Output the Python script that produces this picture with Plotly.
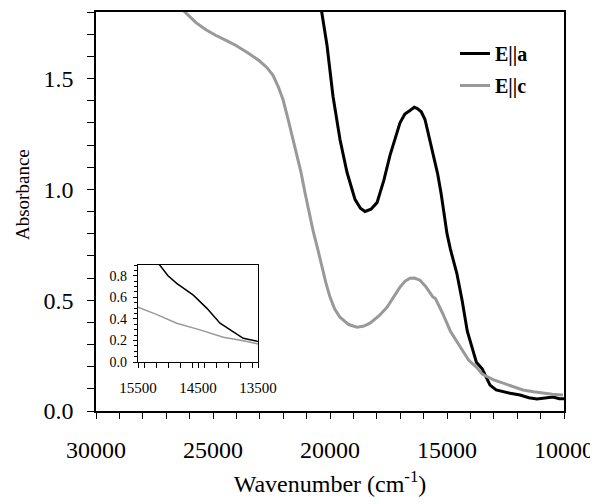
import plotly.graph_objects as go

# E||a (black) : wavenumber (cm-1), absorbance
wn_a = [20400, 20128, 19872, 19573, 19274, 18932, 18700, 18504, 18250, 17991,
        17700, 17436, 17009, 16800, 16581, 16400, 16282, 16100, 15940, 15598,
        15400, 15250, 15133, 15000, 14855, 14700, 14578, 14355, 14133, 13911,
        13745, 13495, 13300, 13162, 12900, 12607, 12300, 11880, 11500, 11154,
        10800, 10470, 10200, 10000]
abs_a = [1.83, 1.65, 1.42, 1.225, 1.077, 0.955, 0.915, 0.90, 0.91, 0.94,
         1.04, 1.153, 1.30, 1.34, 1.356, 1.37, 1.365, 1.35, 1.315, 1.167,
         1.07, 0.98, 0.90, 0.80, 0.73, 0.67, 0.62, 0.50, 0.36, 0.28,
         0.22, 0.19, 0.15, 0.117, 0.095, 0.086, 0.08, 0.072, 0.06, 0.054,
         0.058, 0.063, 0.055, 0.055]

# E||c (gray)
wn_c = [26300, 25727, 25300, 24872, 24400, 24017, 23500, 23034, 22700, 22436,
        22200, 22009, 21800, 21581, 21400, 21239, 21080, 20897, 20726, 20500,
        20342, 20180, 20000, 19800, 19573, 19200, 18846, 18550, 18291, 17900,
        17564, 17300, 17009, 16800, 16581, 16400, 16154, 15900, 15598, 15500,
        15183, 14855, 14467, 14078, 13745, 13495, 13000, 12607, 12200, 11752,
        11300, 10897, 10500, 10043]
abs_c = [1.81, 1.752, 1.72, 1.694, 1.67, 1.649, 1.615, 1.581, 1.55, 1.514,
         1.46, 1.405, 1.32, 1.225, 1.15, 1.077, 0.99, 0.896, 0.815, 0.72,
         0.649, 0.58, 0.514, 0.46, 0.423, 0.39, 0.378, 0.383, 0.396, 0.43,
         0.468, 0.51, 0.559, 0.585, 0.599, 0.60, 0.59, 0.56, 0.514, 0.508,
         0.44, 0.36, 0.298, 0.23, 0.198, 0.167, 0.14, 0.126, 0.11, 0.095,
         0.087, 0.081, 0.076, 0.072]

series_names = ["<b>E||a</b>", "<b>E||c</b>"]
x_tick_vals = [30000, 25000, 20000, 15000, 10000]
inset_x_ticks = [15500, 14500, 13500]

BLACK = "#000000"
GRAY = "#999999"
FONT = "Liberation Serif, Times New Roman, DejaVu Serif, serif"

fig = go.Figure()
fig.add_trace(go.Scatter(x=wn_a, y=abs_a, mode="lines", name=series_names[0],
                         line=dict(color=BLACK, width=3), legendgroup="a"))
fig.add_trace(go.Scatter(x=wn_c, y=abs_c, mode="lines", name=series_names[1],
                         line=dict(color=GRAY, width=3), legendgroup="c"))
# inset traces
fig.add_trace(go.Scatter(x=wn_a, y=abs_a, mode="lines", showlegend=False,
                         line=dict(color=BLACK, width=1.5), xaxis="x2", yaxis="y2"))
fig.add_trace(go.Scatter(x=wn_c, y=abs_c, mode="lines", showlegend=False,
                         line=dict(color=GRAY, width=1.5), xaxis="x2", yaxis="y2"))

# page has an 8px body margin, so the figure is placed at (8, 8)
W, H = 590, 496
PL, PT, PR, PB = 96, 12, 564, 411   # plot box in page pixels

def px_x(x):
    return (x - PL) / (PR - PL)

def px_y(y):
    return (PB - y) / (PB - PT)

fig.update_layout(
    width=W, height=H,
    margin=dict(l=PL - 8, r=W - (PR - 8), t=PT - 8, b=H - (PB - 8)),
    paper_bgcolor="white", plot_bgcolor="white",
    font=dict(family=FONT, color="black", size=22),
    showlegend=True,
    legend=dict(x=px_x(455), y=px_y(34), xanchor="left", yanchor="top",
                bgcolor="rgba(0,0,0,0)", font=dict(size=20, family=FONT),
                tracegroupgap=3, itemwidth=30),
    xaxis=dict(range=[30000, 10000], tickmode="array", tickvals=x_tick_vals,
               tickformat="d", automargin=False,
               ticks="outside", ticklen=6, tickwidth=1.2, tickcolor="black",
               minor=dict(dtick=1000, ticks="outside", ticklen=6, tickwidth=1.2, tickcolor="black"),
               showline=True, linecolor="black", linewidth=1.5, mirror=True,
               showgrid=False, zeroline=False, ticklabelstandoff=10,
               tickfont=dict(size=24, family=FONT),
               title=dict(text="Wavenumber (cm<sup>-1</sup>)", font=dict(size=24, family=FONT), standoff=14)),
    yaxis=dict(range=[0, 1.8], tickmode="linear", tick0=0, dtick=0.5, tickformat=".1f",
               automargin=False,
               ticks="outside", ticklen=7, tickwidth=1.2, tickcolor="black",
               minor=dict(dtick=0.1, ticks="outside", ticklen=7, tickwidth=1.2, tickcolor="black"),
               showline=True, linecolor="black", linewidth=1.5, mirror=True,
               showgrid=False, zeroline=False, ticklabelstandoff=9,
               tickfont=dict(size=24, family=FONT)),
    xaxis2=dict(domain=[px_x(138), px_x(258)], anchor="y2", range=[15500, 13500],
                tickmode="array", tickvals=inset_x_ticks, tickformat="d",
                ticks="outside", ticklen=5, tickwidth=1, tickcolor="black",
                minor=dict(dtick=200, ticks="outside", ticklen=5, tickwidth=1, tickcolor="black"),
                showline=True, linecolor="black", linewidth=1.2, mirror=True,
                showgrid=False, zeroline=False, ticklabelstandoff=7,
                tickfont=dict(size=15, family=FONT)),
    yaxis2=dict(domain=[px_y(362), px_y(265)], anchor="x2", range=[0, 0.9],
                tickmode="linear", tick0=0, dtick=0.2, tickformat=".1f",
                ticks="outside", ticklen=4, tickwidth=1, tickcolor="black",
                minor=dict(dtick=0.05, ticks="outside", ticklen=3, tickwidth=1, tickcolor="black"),
                showline=True, linecolor="black", linewidth=1.2, mirror=True,
                showgrid=False, zeroline=False, ticklabelstandoff=3,
                tickfont=dict(size=14, family=FONT)),
    annotations=[dict(text="Absorbance", textangle=-90, xref="paper", yref="paper",
                      x=px_x(22), y=px_y(195), xanchor="center", yanchor="middle",
                      showarrow=False, font=dict(size=19, family=FONT))],
)

fig.write_html("out.html")
